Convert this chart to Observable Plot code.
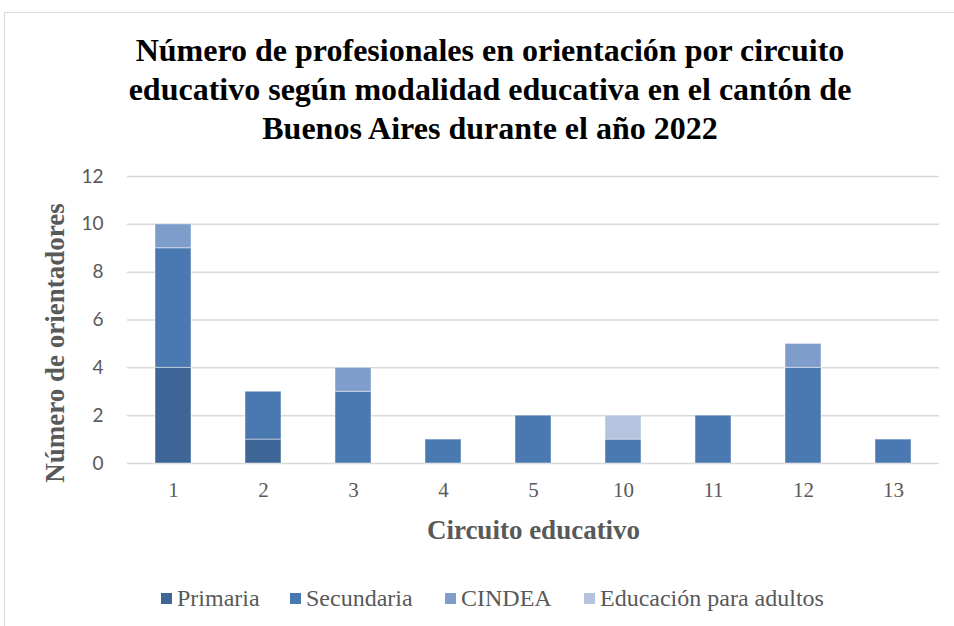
<!DOCTYPE html>
<html>
<head>
<meta charset="utf-8">
<script src="https://cdn.jsdelivr.net/npm/d3@7"></script>
<script src="https://cdn.jsdelivr.net/npm/@observablehq/plot@0.6"></script>
<style>
  html, body { margin: 0; padding: 0; background: #fff; overflow: hidden; }
  #wrap { position: relative; width: 954px; height: 626px; overflow: hidden; }
  #frame { position: absolute; left: 4px; top: 12px; width: 1000px; height: 700px; border: 1px solid #d9d9d9; box-sizing: border-box; }
  #title { position: absolute; left: 0; top: 31px; width: 980px; text-align: center;
    font-family: "Liberation Serif", "Times New Roman", serif; font-weight: bold; font-size: 32px; line-height: 39px; color: #000; }
  #chart { position: absolute; left: 0; top: 150px; }
  #legend { position: absolute; left: 0; top: 584px; width: 954px;
    font-family: "Liberation Serif", "Times New Roman", serif; font-size: 24px; line-height: 28px; color: #595959; }
  .item { position: absolute; top: 0; display: flex; align-items: center; white-space: nowrap; }
  .sw { width: 11px; height: 11px; margin-right: 5px; }
</style>
</head>
<body>
<div id="wrap">
  <div id="frame"></div>
  <div id="title">Número de profesionales en orientación por circuito<br>educativo según modalidad educativa en el cantón de<br>Buenos Aires durante el año 2022</div>
  <div id="chart"></div>
  <div id="legend"></div>
</div>
<script>
const circuits = ["1", "2", "3", "4", "5", "10", "11", "12", "13"];
const seriesNames = ["Primaria", "Secundaria", "CINDEA", "Educación para adultos"];
const primaria   = [4, 1, 0, 0, 0, 0, 0, 0, 0];
const secundaria = [5, 2, 3, 1, 2, 1, 2, 4, 1];
const cindea     = [1, 0, 1, 0, 0, 0, 0, 1, 0];
const adultos    = [0, 0, 0, 0, 0, 1, 0, 0, 0];
const yTicks = [0, 2, 4, 6, 8, 10, 12];
const colors = ["#3d6697", "#4a78b0", "#7f9dca", "#b4c4de"];

const seriesValues = [primaria, secundaria, cindea, adultos];
const rows = [];
seriesNames.forEach((s, si) => {
  circuits.forEach((c, ci) => {
    const v = seriesValues[si][ci];
    if (v > 0) rows.push({circuito: c, serie: s, valor: v});
  });
});

const sans = "Lato, 'Open Sans', sans-serif";
const serif = "'Liberation Serif', 'Times New Roman', serif";

const chart = Plot.plot({
  width: 954,
  height: 400,
  marginTop: 26,
  marginBottom: 87,
  marginLeft: 127,
  marginRight: 15,
  style: { fontFamily: sans, fontSize: "19px", color: "#595959", background: "transparent" },
  x: { domain: circuits, paddingInner: 0.6, paddingOuter: 0.3, label: null },
  y: { domain: [0, 12], ticks: yTicks, label: null },
  color: { domain: seriesNames, range: colors },
  marks: [
    Plot.gridY(yTicks, { stroke: "#d9d9d9", strokeOpacity: 1, strokeWidth: 1.5 }),
    Plot.barY(rows, { x: "circuito", y: "valor", fill: "serie", stroke: "#ffffff", strokeOpacity: 0.45, strokeWidth: 1 }),
    Plot.axisY(yTicks, { tickSize: 0, tickPadding: 24, fill: "#595959", fontSize: 19, label: null }),
    Plot.axisX({ tickSize: 0, tickPadding: 19, fill: "#595959", fontSize: 21, fontFamily: serif, label: null }),
    Plot.text(["Número de orientadores"], { frameAnchor: "left", dx: -72, dy: 23, rotate: -90, textAnchor: "middle", text: d => d,
      fontFamily: serif, fontWeight: "bold", fontSize: 27, fill: "#595959" }),
    Plot.text(["Circuito educativo"], { frameAnchor: "bottom", dy: 75, text: d => d,
      fontFamily: serif, fontWeight: "bold", fontSize: 27, fill: "#595959" })
  ]
});
document.getElementById("chart").appendChild(chart);

const legendX = [161, 290, 445, 584];
const legend = document.getElementById("legend");
seriesNames.forEach((s, i) => {
  const it = document.createElement("div");
  it.className = "item";
  it.style.left = legendX[i] + "px";
  const sw = document.createElement("span");
  sw.className = "sw";
  sw.style.background = colors[i];
  const t = document.createElement("span");
  t.textContent = s;
  it.appendChild(sw);
  it.appendChild(t);
  legend.appendChild(it);
});
</script>
</body>
</html>
